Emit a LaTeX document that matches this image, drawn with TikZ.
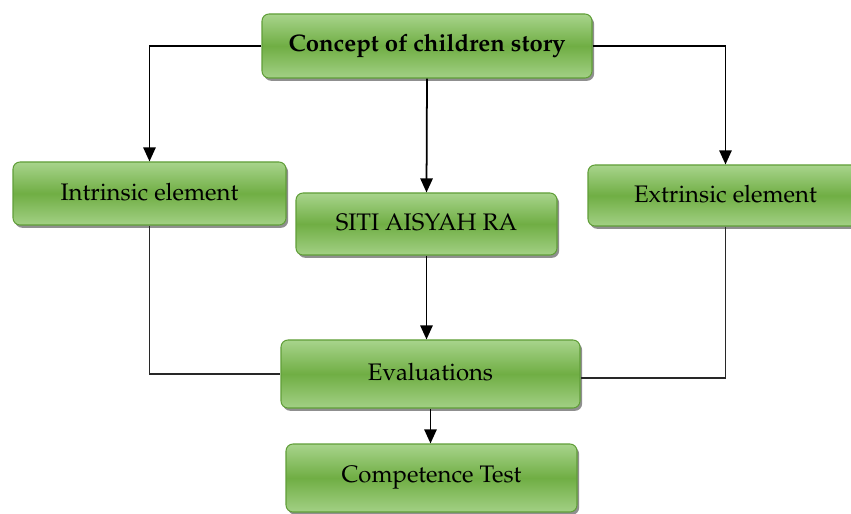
\documentclass[tikz,border=0pt]{standalone}
\usepackage[T1]{fontenc}
\usepackage{mathpazo}
\usepackage{tikz}
\usetikzlibrary{shapes, arrows.meta, positioning, calc, shadows}
\definecolor{boxtop}{RGB}{168, 212, 140}
\definecolor{boxmid}{RGB}{112, 174, 68}
\definecolor{boxline}{RGB}{96, 158, 56}
\definecolor{linegray}{RGB}{40, 40, 40}
\tikzset{
  greenbox/.style={draw=boxline, line width=0.6pt, rounded corners=4pt,
    top color=boxtop, bottom color=boxtop!90!boxmid, middle color=boxmid,
    drop shadow={shadow xshift=1.2pt, shadow yshift=-1.6pt, fill=black!55, opacity=0.8},
    align=center, font=\fontsize{13.6}{16}\selectfont, inner sep=0pt},
  arrowline/.style={draw=black, line width=1pt, -{Triangle[width=7pt,length=8pt]}},
  plainline/.style={draw=linegray, line width=0.7pt}
}

\begin{document}
\begin{tikzpicture}
  \useasboundingbox (0,0) rectangle (17.02,-10.28);

  % Boxes
  \node[greenbox, minimum width=6.6cm, minimum height=1.28cm, font=\fontsize{13.6}{16}\selectfont\bfseries] (concept) at (8.54, -0.92) {\raisebox{2pt}{Concept of children story}};
  \node[greenbox, minimum width=5.46cm, minimum height=1.26cm] (intrinsic) at (2.99, -3.87) {\raisebox{2pt}{Intrinsic element}};
  \node[greenbox, minimum width=5.22cm, minimum height=1.24cm] (siti) at (8.53, -4.48) {\raisebox{2pt}{SITI AISYAH RA}};
  \node[greenbox, minimum width=5.5cm, minimum height=1.22cm] (extrinsic) at (14.51, -3.91) {\raisebox{2pt}{Extrinsic element}};
  \node[greenbox, minimum width=5.98cm, minimum height=1.36cm] (eval) at (8.61, -7.48) {\raisebox{3pt}{Evaluations}};
  \node[greenbox, minimum width=5.82cm, minimum height=1.36cm] (comp) at (8.63, -9.56) {\raisebox{3pt}{Competence Test}};

  % Connectors
  \draw[arrowline] (concept.west) -| (intrinsic.north);
  \draw[arrowline] (concept.east) -| (extrinsic.north);
  \draw[arrowline] (concept.south) -- (siti.north);
  \draw[arrowline] (siti.south) -- (siti.south |- eval.north);
  \draw[plainline] (intrinsic.south) |- (eval.west);
  \draw[plainline] (extrinsic.south) |- ([yshift=-0.08cm]eval.east);
  \draw[arrowline] (eval.south) -- (eval.south |- comp.north);
\end{tikzpicture}
\end{document}
